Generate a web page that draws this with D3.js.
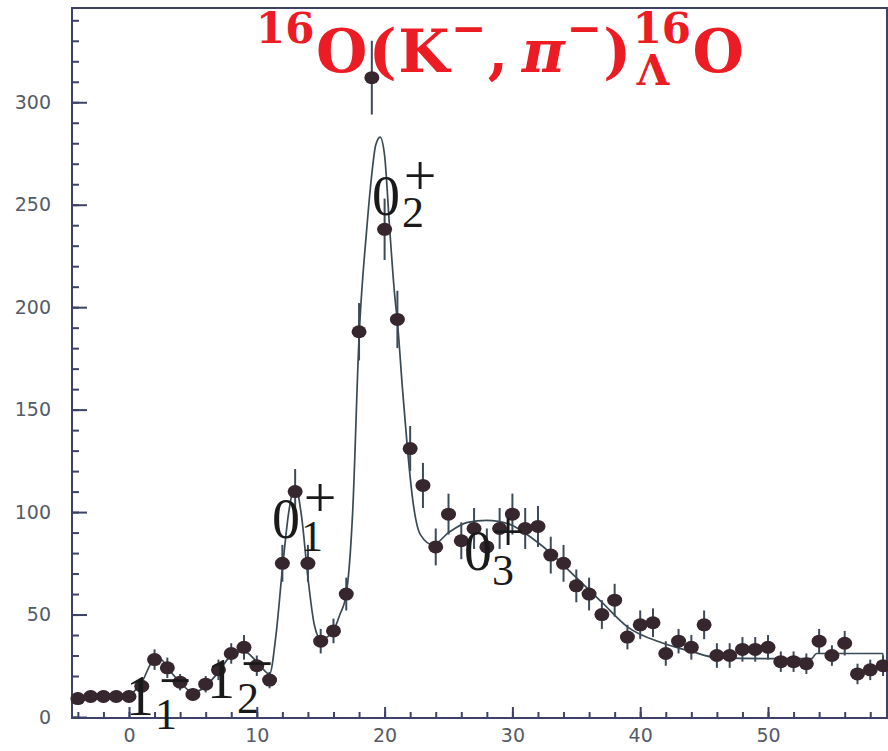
<!DOCTYPE html>
<html lang="en">
  <head>
    <meta charset="utf-8" />
    <title>16O(K-,pi-)16LO</title>
    <script type="text/javascript" src="https://cdn.jsdelivr.net/npm/d3@7"></script>
    <style type="text/css">
      body { margin: 0; background: #fff; }
      svg { display: block; }
    </style>
  </head>

  <body>
    <script type="text/javascript">
      // Datapunkter (energi, taelling, fejl)
      const energy = [-4, -3, -2, -1, 0, 1, 2, 3, 4, 5, 6, 7, 8, 9, 10, 11, 12, 13, 14, 15, 16, 17, 18, 19,
        20, 21, 22, 23, 24, 25, 26, 27, 28, 29, 30, 31, 32, 33, 34, 35, 36, 37, 38, 39, 40, 41, 42, 43,
        44, 45, 46, 47, 48, 49, 50, 51, 52, 53, 54, 55, 56, 57, 58, 59];
      const counts = [9, 10, 10, 10, 10, 15, 28, 24, 17, 11, 16, 23, 31, 34, 25, 18, 75, 110, 75, 37, 42, 60, 188, 312,
        238, 194, 131, 113, 83, 99, 86, 92, 83, 92, 99, 92, 93, 79, 75, 64, 60, 50, 57, 39, 45, 46, 31, 37,
        34, 45, 30, 30, 33, 33, 34, 27, 27, 26, 37, 30, 36, 21, 23, 25];
      const errors = [3, 3, 3, 3, 3, 4, 5, 5, 4, 3, 4, 5, 5, 6, 5, 4, 9, 11, 9, 6, 6, 8, 14, 18,
        15, 14, 11, 11, 9, 10, 9, 10, 9, 10, 10, 10, 10, 9, 9, 8, 8, 7, 8, 6, 7, 7, 6, 6,
        6, 7, 6, 6, 6, 6, 6, 5, 5, 5, 6, 5, 6, 5, 5, 5];

      // Tilpasset kurve
      const fitX = [0, 1, 2, 2.5, 3, 4, 5, 6, 7, 8, 9, 10, 11, 11.5, 12, 12.5, 13, 13.5, 14, 14.5, 15, 15.5, 16,
        16.5, 17, 17.5, 18, 18.6, 19, 19.3, 19.65, 20, 20.4, 20.8, 21, 21.4, 21.8, 22.2, 22.8, 23.8, 25,
        26.5, 28, 29.8, 31.6, 33, 35, 37, 39, 41.8, 44, 46, 50, 53.4, 53.8, 59, 59.01];
      const fitY = [10, 17, 28, 28, 24, 17, 12, 15, 22, 30, 32, 27, 21, 40, 72, 100, 113, 98, 68, 45, 38, 39, 42,
        50, 60, 100, 185, 238, 265, 279, 283, 274, 238, 205, 193, 160, 130, 106, 89, 84, 90,
        95, 96, 94, 87, 80, 68, 56, 44, 36, 32, 29, 28.5, 28.5, 31, 31, 25];

      const xMajor = [0, 10, 20, 30, 40, 50];
      const yMajor = [0, 50, 100, 150, 200, 250, 300];

      const width = 888, height = 751;
      const mLeft = 72, mRight = 887, mTop = 8, mBottom = 718;

      const svg = d3.select("body").append("svg")
        .attr("width", width)
        .attr("height", height);

      const x = d3.scaleLinear().domain([-4.46, 59.31]).range([mLeft, mRight]);
      const y = d3.scaleLinear().domain([0, 346]).range([717, mTop]);

      const axisColor = "#3d4266";
      const labelColor = "#545b68";

      // Ramme
      svg.append("rect")
        .attr("x", mLeft).attr("y", mTop)
        .attr("width", mRight - mLeft).attr("height", mBottom - mTop)
        .attr("fill", "none")
        .attr("stroke", axisColor)
        .attr("stroke-width", 2);

      // y-akse
      const gy = svg.append("g").attr("transform", `translate(${mLeft},0)`);
      gy.call(d3.axisLeft(y).tickValues(d3.range(0, 341, 10)).tickSize(-7).tickFormat(""));
      gy.append("g").call(d3.axisLeft(y).tickValues(yMajor).tickSize(-15).tickPadding(21).tickFormat(d3.format("d")));

      // x-akse
      const gx = svg.append("g").attr("transform", `translate(0,${mBottom})`);
      gx.call(d3.axisBottom(x).tickValues(d3.range(-4, 59, 2)).tickSize(-6).tickFormat(""));
      gx.append("g").call(d3.axisBottom(x).tickValues(xMajor).tickSize(-11).tickPadding(11).tickFormat(d3.format("d")));

      svg.selectAll(".domain").attr("stroke", "none");
      svg.selectAll(".tick line").attr("stroke", axisColor).attr("stroke-width", 2);
      svg.selectAll(".tick text")
        .attr("fill", labelColor)
        .attr("font-family", "DejaVu Sans")
        .attr("font-size", 19);

      // Kurve
      const line = d3.line()
        .x((d, i) => x(fitX[i]))
        .y((d, i) => y(fitY[i]))
        .curve(d3.curveMonotoneX);

      svg.append("path")
        .attr("d", line(fitX))
        .attr("fill", "none")
        .attr("stroke", "#3a4a55")
        .attr("stroke-width", 1.7);

      // Fejlstolper og punkter
      const pts = svg.append("g");
      pts.selectAll("line")
        .data(energy)
        .enter()
        .append("line")
        .attr("x1", d => x(d)).attr("x2", d => x(d))
        .attr("y1", (d, i) => y(counts[i] - errors[i]))
        .attr("y2", (d, i) => y(counts[i] + errors[i]))
        .attr("stroke", "#3d4a58")
        .attr("stroke-width", 2);

      pts.selectAll("ellipse")
        .data(energy)
        .enter()
        .append("ellipse")
        .attr("cx", d => x(d))
        .attr("cy", (d, i) => y(counts[i]))
        .attr("rx", 7.5)
        .attr("ry", 6.5)
        .attr("fill", "#36262e");

      // Tilstandsnavne
      const states = [
        { base: "1", sub: "1", sup: "\u2212", bx: 126, by: 715, sx: 155, sy: 729, px: 175, py: 686 },
        { base: "1", sub: "2", sup: "\u2212", bx: 207, by: 698, sx: 237, sy: 713, px: 257, py: 669 },
        { base: "0", sub: "1", sup: "+", bx: 272, by: 538, sx: 301, sy: 551, px: 320, py: 503 },
        { base: "0", sub: "2", sup: "+", bx: 372, by: 215, sx: 402, sy: 227, px: 420, py: 181 },
        { base: "0", sub: "3", sup: "+", bx: 464, by: 570, sx: 492, sy: 585, px: 508, py: 537 }
      ];
      const lab = svg.append("g")
        .attr("font-family", "Liberation Serif")
        .attr("fill", "#1a1a1a");
      states.forEach(s => {
        lab.append("text").attr("x", s.bx).attr("y", s.by).attr("font-size", 56).text(s.base);
        lab.append("text").attr("x", s.sx).attr("y", s.sy).attr("font-size", 44).text(s.sub);
        lab.append("text").attr("x", s.px).attr("y", s.py + 14).attr("font-size", 58)
          .attr("text-anchor", "middle").text(s.sup);
      });

      // Titel
      const title = svg.append("g")
        .attr("font-family", "DejaVu Serif")
        .attr("font-weight", "bold")
        .attr("fill", "#ec1c24");
      const big = 59, small = 42, baseY = 72;
      let cx = 256;
      function piece(txt, size, dy, italic) {
        const t = title.append("text")
          .attr("x", cx).attr("y", baseY + dy)
          .attr("font-size", size)
          .attr("font-style", italic ? "italic" : "normal")
          .text(txt);
        const w = t.node().getComputedTextLength();
        cx += w + 1.5;
        return w;
      }
      piece("16", small, -29);
      piece("O", big, 0);
      piece("(", big, 0);
      piece("K", big, 0);
      piece("\u2212", small, -29);
      piece(",", big, 0);
      cx += 12;
      piece("\u03c0", big, 0, true);
      piece("\u2212", small, -29);
      piece(")", big, 0);
      const sx0 = cx;
      const w1 = piece("16", small, -29);
      cx = sx0 + 4;
      const w2 = piece("\u039b", small, 13);
      cx = sx0 + Math.max(w1, w2 + 4) + 1.5;
      piece("O", big, 0);
    </script>
  </body>
</html>
